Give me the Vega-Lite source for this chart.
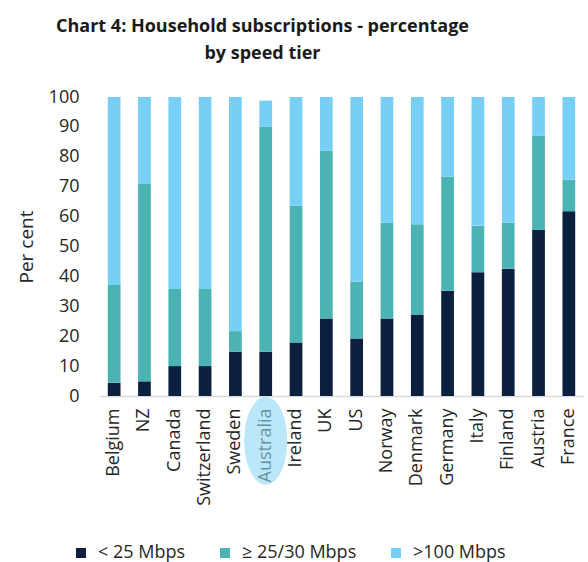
{
  "$schema": "https://vega.github.io/schema/vega-lite/v6.json",
  "autosize": {"type": "none"},
  "width": 485,
  "height": 299,
  "padding": {"left": 99, "top": 97, "right": 4, "bottom": 166},
  "background": "white",
  "config": {
    "view": {"stroke": null},
    "font": "Open Sans",
    "text": {"font": "Open Sans"}
  },
  "title": {
    "text": ["Chart 4: Household subscriptions - percentage", "by speed tier"],
    "font": "Open Sans",
    "fontSize": 18,
    "fontWeight": "bold",
    "color": "#1a1a1a",
    "anchor": "middle",
    "dx": -79,
    "offset": 25,
    "lineHeight": 27
  },
  "datasets": {
    "subs": [
      {"country": "Belgium", "tier": "< 25 Mbps", "t": 1, "value": 4.4},
      {"country": "Belgium", "tier": "≥ 25/30 Mbps", "t": 2, "value": 32.7},
      {"country": "Belgium", "tier": ">100 Mbps", "t": 3, "value": 62.9},
      {"country": "NZ", "tier": "< 25 Mbps", "t": 1, "value": 4.9},
      {"country": "NZ", "tier": "≥ 25/30 Mbps", "t": 2, "value": 66.0},
      {"country": "NZ", "tier": ">100 Mbps", "t": 3, "value": 29.1},
      {"country": "Canada", "tier": "< 25 Mbps", "t": 1, "value": 10.0},
      {"country": "Canada", "tier": "≥ 25/30 Mbps", "t": 2, "value": 25.8},
      {"country": "Canada", "tier": ">100 Mbps", "t": 3, "value": 64.2},
      {"country": "Switzerland", "tier": "< 25 Mbps", "t": 1, "value": 10.0},
      {"country": "Switzerland", "tier": "≥ 25/30 Mbps", "t": 2, "value": 25.8},
      {"country": "Switzerland", "tier": ">100 Mbps", "t": 3, "value": 64.2},
      {"country": "Sweden", "tier": "< 25 Mbps", "t": 1, "value": 14.8},
      {"country": "Sweden", "tier": "≥ 25/30 Mbps", "t": 2, "value": 6.9},
      {"country": "Sweden", "tier": ">100 Mbps", "t": 3, "value": 78.3},
      {"country": "Australia", "tier": "< 25 Mbps", "t": 1, "value": 14.8},
      {"country": "Australia", "tier": "≥ 25/30 Mbps", "t": 2, "value": 75.3},
      {"country": "Australia", "tier": ">100 Mbps", "t": 3, "value": 8.7},
      {"country": "Ireland", "tier": "< 25 Mbps", "t": 1, "value": 17.9},
      {"country": "Ireland", "tier": "≥ 25/30 Mbps", "t": 2, "value": 45.7},
      {"country": "Ireland", "tier": ">100 Mbps", "t": 3, "value": 36.4},
      {"country": "UK", "tier": "< 25 Mbps", "t": 1, "value": 25.9},
      {"country": "UK", "tier": "≥ 25/30 Mbps", "t": 2, "value": 56.2},
      {"country": "UK", "tier": ">100 Mbps", "t": 3, "value": 17.9},
      {"country": "US", "tier": "< 25 Mbps", "t": 1, "value": 19.2},
      {"country": "US", "tier": "≥ 25/30 Mbps", "t": 2, "value": 19.0},
      {"country": "US", "tier": ">100 Mbps", "t": 3, "value": 61.8},
      {"country": "Norway", "tier": "< 25 Mbps", "t": 1, "value": 25.9},
      {"country": "Norway", "tier": "≥ 25/30 Mbps", "t": 2, "value": 32.1},
      {"country": "Norway", "tier": ">100 Mbps", "t": 3, "value": 42.0},
      {"country": "Denmark", "tier": "< 25 Mbps", "t": 1, "value": 27.1},
      {"country": "Denmark", "tier": "≥ 25/30 Mbps", "t": 2, "value": 30.3},
      {"country": "Denmark", "tier": ">100 Mbps", "t": 3, "value": 42.6},
      {"country": "Germany", "tier": "< 25 Mbps", "t": 1, "value": 35.2},
      {"country": "Germany", "tier": "≥ 25/30 Mbps", "t": 2, "value": 38.2},
      {"country": "Germany", "tier": ">100 Mbps", "t": 3, "value": 26.6},
      {"country": "Italy", "tier": "< 25 Mbps", "t": 1, "value": 41.4},
      {"country": "Italy", "tier": "≥ 25/30 Mbps", "t": 2, "value": 15.5},
      {"country": "Italy", "tier": ">100 Mbps", "t": 3, "value": 43.1},
      {"country": "Finland", "tier": "< 25 Mbps", "t": 1, "value": 42.6},
      {"country": "Finland", "tier": "≥ 25/30 Mbps", "t": 2, "value": 15.4},
      {"country": "Finland", "tier": ">100 Mbps", "t": 3, "value": 42.0},
      {"country": "Austria", "tier": "< 25 Mbps", "t": 1, "value": 55.5},
      {"country": "Austria", "tier": "≥ 25/30 Mbps", "t": 2, "value": 31.5},
      {"country": "Austria", "tier": ">100 Mbps", "t": 3, "value": 13.0},
      {"country": "France", "tier": "< 25 Mbps", "t": 1, "value": 61.8},
      {"country": "France", "tier": "≥ 25/30 Mbps", "t": 2, "value": 10.5},
      {"country": "France", "tier": ">100 Mbps", "t": 3, "value": 27.7}
    ],
    "highlight": [{"country": "Australia"}]
  },
  "layer": [
    {
      "data": {"name": "subs"},
      "mark": {"type": "bar"},
      "encoding": {
        "x": {
          "field": "country",
          "type": "nominal",
          "sort": ["Belgium", "NZ", "Canada", "Switzerland", "Sweden", "Australia", "Ireland", "UK", "US", "Norway", "Denmark", "Germany", "Italy", "Finland", "Austria", "France"],
          "scale": {"paddingInner": 0.58, "paddingOuter": 0.29},
          "axis": {
            "title": null,
            "labelAngle": -90,
            "labelFont": "Open Sans",
            "labelFontSize": 18,
            "labelColor": "#262626",
            "labelPadding": 12,
            "ticks": false,
            "domainColor": "#d9d9d9",
            "domainWidth": 1.5,
            "labelLimit": 200
          }
        },
        "y": {
          "field": "value",
          "type": "quantitative",
          "stack": "zero",
          "scale": {"domain": [0, 100], "nice": false},
          "axis": {
            "title": "Per cent",
            "titleFont": "Open Sans",
            "titleFontSize": 19,
            "titleFontWeight": "normal",
            "titleColor": "#262626",
            "titlePadding": 12,
            "values": [0, 10, 20, 30, 40, 50, 60, 70, 80, 90, 100],
            "tickCount": 11,
            "labelOverlap": false,
            "labelFont": "Open Sans",
            "labelFontSize": 18,
            "labelColor": "#262626",
            "labelPadding": 20,
            "domain": false,
            "ticks": false,
            "grid": false
          }
        },
        "color": {
          "field": "tier",
          "type": "nominal",
          "scale": {
            "domain": ["< 25 Mbps", "≥ 25/30 Mbps", ">100 Mbps"],
            "range": ["#0b1f3f", "#4bb3b4", "#78cff5"]
          },
          "legend": {
            "title": null,
            "orient": "none",
            "direction": "horizontal",
            "legendX": -27,
            "legendY": 447,
            "padding": 0,
            "symbolType": "square",
            "symbolSize": 100,
            "symbolStrokeWidth": 0,
            "labelFont": "Open Sans",
            "labelFontSize": 18,
            "labelColor": "#262626",
            "labelOffset": 8,
            "columnPadding": 30
          }
        },
        "order": {"field": "t", "type": "quantitative"}
      }
    },
    {
      "data": {"name": "highlight"},
      "mark": {
        "type": "point",
        "shape": "M -0.49 0 A 0.49 1 0 1 1 0.49 0 A 0.49 1 0 1 1 -0.49 0 Z",
        "filled": true,
        "size": 7744,
        "fill": "#8fd7f3",
        "opacity": 0.6,
        "strokeWidth": 0,
        "clip": false
      },
      "encoding": {
        "x": {
          "field": "country",
          "type": "nominal",
          "sort": ["Belgium", "NZ", "Canada", "Switzerland", "Sweden", "Australia", "Ireland", "UK", "US", "Norway", "Denmark", "Germany", "Italy", "Finland", "Austria", "France"]
        },
        "y": {
          "datum": -15,
          "type": "quantitative",
          "axis": {
            "title": "Per cent",
            "titleFont": "Open Sans",
            "titleFontSize": 19,
            "titleFontWeight": "normal",
            "titleColor": "#262626",
            "titlePadding": 12,
            "values": [0, 10, 20, 30, 40, 50, 60, 70, 80, 90, 100],
            "tickCount": 11,
            "labelOverlap": false,
            "labelFont": "Open Sans",
            "labelFontSize": 18,
            "labelColor": "#262626",
            "labelPadding": 20,
            "domain": false,
            "ticks": false,
            "grid": false
          }
        }
      }
    }
  ]
}
